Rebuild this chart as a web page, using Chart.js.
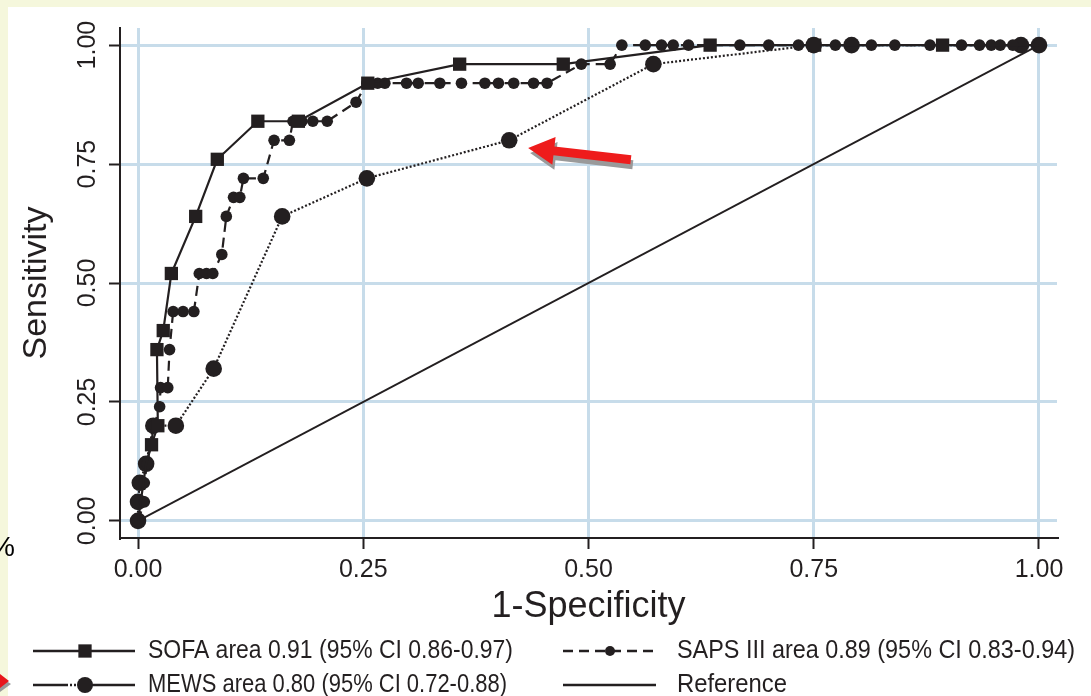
<!DOCTYPE html>
<html>
<head>
<meta charset="utf-8">
<title>ROC curves - SOFA, SAPS III, MEWS</title>
<script src="https://cdn.jsdelivr.net/npm/chart.js@4.4.0/dist/chart.umd.min.js"></script>
<style>
  html, body { margin: 0; padding: 0; background: #f5f7dc; }
  #wrap { position: relative; width: 1091px; height: 696px; }
</style>
</head>
<body>
<div id="wrap"><canvas id="roc" width="1091" height="696"></canvas></div>
<script>
// Tick values (both axes)
const tickValues = [0, 0.25, 0.5, 0.75, 1];

// SOFA curve (1-specificity, sensitivity)
const sofaX = [0, 0.009, 0.015, 0.022, 0.021, 0.028, 0.037, 0.064, 0.088, 0.133, 0.178, 0.255, 0.357, 0.472, 0.635, 0.751, 0.893, 1.0];
const sofaY = [0, 0.12, 0.16, 0.20, 0.36, 0.40, 0.52, 0.64, 0.76, 0.84, 0.84, 0.92, 0.96, 0.96, 1.0, 1.0, 1.0, 1.0];

// SAPS III curve
const sapsX = [0, 0.007, 0.007, 0.010, 0.018, 0.024, 0.025, 0.033, 0.035, 0.039, 0.050, 0.062, 0.068, 0.076, 0.083,
  0.093, 0.098, 0.106, 0.113, 0.117, 0.139, 0.151, 0.168, 0.172, 0.182, 0.194, 0.210, 0.242,
  0.254, 0.266, 0.274, 0.298, 0.311, 0.335, 0.359, 0.385, 0.400, 0.417, 0.439, 0.454, 0.492, 0.524,
  0.537, 0.563, 0.581, 0.594, 0.611, 0.668, 0.700, 0.733, 0.774, 0.814, 0.840, 0.879, 0.914, 0.934, 0.947, 0.957, 0.971, 1.0];
const sapsY = [0, 0.04, 0.08, 0.12, 0.20, 0.24, 0.28, 0.28, 0.36, 0.44, 0.44, 0.44, 0.52, 0.52, 0.52,
  0.56, 0.64, 0.68, 0.68, 0.72, 0.72, 0.80, 0.80, 0.84, 0.84, 0.84, 0.84, 0.88,
  0.92, 0.92, 0.92, 0.92, 0.92, 0.92, 0.92, 0.92, 0.92, 0.92, 0.92, 0.92, 0.96, 0.96,
  1.0, 1.0, 1.0, 1.0, 1.0, 1.0, 1.0, 1.0, 1.0, 1.0, 1.0, 1.0, 1.0, 1.0, 1.0, 1.0, 1.0, 1.0];

// MEWS curve
const mewsX = [0, 0, 0.002, 0.009, 0.017, 0.042, 0.084, 0.160, 0.254, 0.412, 0.572, 0.750, 0.792, 0.980, 1.0];
const mewsY = [0, 0.04, 0.08, 0.12, 0.20, 0.20, 0.32, 0.64, 0.72, 0.80, 0.96, 1.0, 1.0, 1.0, 1.0];

// Chance diagonal
const refX = [0, 1];
const refY = [0, 1];

const legendLabels = [
  'SOFA area 0.91 (95% CI 0.86-0.97)',
  'SAPS III area 0.89 (95% CI 0.83-0.94)',
  'MEWS area 0.80 (95% CI 0.72-0.88)',
  'Reference'
];

// annotation arrow pointing at the MEWS point, in data units
const arrowTail = { x: 0.547, y: 0.759 };
const arrowTip = { x: 0.433, y: 0.784 };

const INK = '#231f20';
const FONT = "'Liberation Sans', Arial, Helvetica, sans-serif";

function toPoints(xs, ys) {
  return xs.map((x, i) => ({ x: x, y: ys[i] }));
}

// SOFA squares hidden below the MEWS circles at the ends
const sofaRadius = sofaX.map((x, i) => (i < 2 || i === sofaX.length - 1) ? 0 : 9.4);

// Background: pale page edge and white panel
const backdrop = {
  id: 'backdrop',
  beforeDraw(chart) {
    const ctx = chart.ctx;
    ctx.save();
    ctx.fillStyle = '#f5f7dc';
    ctx.fillRect(0, 0, chart.width, chart.height);
    ctx.fillStyle = '#ffffff';
    ctx.fillRect(8, 7, chart.width - 8, chart.height - 7);
    // cut-off bits of neighbouring content on the left edge
    ctx.fillStyle = '#000';
    ctx.font = '28px ' + FONT;
    ctx.textAlign = 'right';
    ctx.textBaseline = 'alphabetic';
    ctx.fillText('%', 15, 556);
    ctx.fillStyle = '#999';
    ctx.beginPath();
    ctx.moveTo(0, 677); ctx.lineTo(11, 684); ctx.lineTo(0, 692); ctx.closePath(); ctx.fill();
    ctx.fillStyle = '#e8161b';
    ctx.beginPath();
    ctx.moveTo(0, 674); ctx.lineTo(9, 681); ctx.lineTo(0, 688); ctx.closePath(); ctx.fill();
    ctx.restore();
  }
};

function fitText(ctx, text, x, y, width) {
  const w = ctx.measureText(text).width;
  ctx.save();
  ctx.translate(x, y);
  ctx.scale(width / w, 1);
  ctx.fillText(text, 0, 0);
  ctx.restore();
}

function marker(ctx, style, r, x, y) {
  ctx.fillStyle = INK;
  Chart.helpers.drawPoint(ctx, { pointStyle: style, radius: r, rotation: 0, borderWidth: 0 }, x, y);
}

function seg(ctx, x1, x2, y, dash, width) {
  ctx.beginPath();
  ctx.setLineDash(dash);
  ctx.lineWidth = width;
  ctx.moveTo(x1, y);
  ctx.lineTo(x2, y);
  ctx.stroke();
  ctx.setLineDash([]);
}

// Stata-style legend below the plot
const stataLegend = {
  id: 'stataLegend',
  afterDraw(chart) {
    const ctx = chart.ctx;
    const r1 = 651, r2 = 685;
    ctx.save();
    ctx.strokeStyle = INK;
    ctx.fillStyle = INK;
    // SOFA
    seg(ctx, 33, 135, r1, [], 2.5);
    marker(ctx, 'rect', 9.4, 85, r1);
    // SAPS III
    seg(ctx, 563, 656, r1, [10, 6], 2.5);
    marker(ctx, 'circle', 5, 610, r1);
    // MEWS
    seg(ctx, 33, 66, r2, [], 2.5);
    seg(ctx, 66, 80, r2, [2, 2], 2.5);
    seg(ctx, 90, 135, r2, [], 2.5);
    marker(ctx, 'circle', 8, 85, r2);
    // Reference
    seg(ctx, 563, 656, r2, [], 2.5);

    ctx.fillStyle = INK;
    ctx.font = "26px 'Liberation Sans Narrow', " + FONT;
    ctx.textBaseline = 'middle';
    ctx.textAlign = 'left';
    fitText(ctx, legendLabels[0], 148, r1, 365);
    fitText(ctx, legendLabels[1], 677, r1, 398);
    fitText(ctx, legendLabels[2], 148, r2, 359);
    fitText(ctx, legendLabels[3], 677, r2, 110);
    ctx.restore();
  }
};

// Red annotation arrow with grey drop shadow
const redArrow = {
  id: 'redArrow',
  afterDatasetsDraw(chart) {
    const xs = chart.scales.x, ys = chart.scales.y;
    const tx = xs.getPixelForValue(arrowTip.x), ty = ys.getPixelForValue(arrowTip.y);
    const sx = xs.getPixelForValue(arrowTail.x), sy = ys.getPixelForValue(arrowTail.y);
    const ang = Math.atan2(ty - sy, tx - sx);
    const len = Math.hypot(tx - sx, ty - sy);
    const headLen = 26, headHalf = 14, shaft = 4.5;
    const ctx = chart.ctx;
    const shape = (dx, dy, color) => {
      ctx.save();
      ctx.translate(sx + dx, sy + dy);
      ctx.rotate(ang);
      ctx.fillStyle = color;
      ctx.beginPath();
      ctx.moveTo(0, -shaft);
      ctx.lineTo(len - headLen, -shaft);
      ctx.lineTo(len - headLen, -headHalf);
      ctx.lineTo(len, 0);
      ctx.lineTo(len - headLen, headHalf);
      ctx.lineTo(len - headLen, shaft);
      ctx.lineTo(0, shaft);
      ctx.closePath();
      ctx.fill();
      ctx.restore();
    };
    shape(2, 5, '#9a9a9a');
    shape(0, 0, '#ee1c1c');
  }
};

const tickOpts = {
  font: { family: FONT, size: 25 },
  color: INK,
  autoSkip: false
};

new Chart(document.getElementById('roc'), {
  type: 'scatter',
  data: {
    datasets: [
      {
        label: legendLabels[0],
        data: toPoints(sofaX, sofaY),
        showLine: true,
        borderColor: INK,
        borderWidth: 2.2,
        backgroundColor: INK,
        pointStyle: 'rect',
        pointRadius: sofaRadius,
        pointBorderWidth: 0
      },
      {
        label: legendLabels[1],
        data: toPoints(sapsX, sapsY),
        showLine: true,
        borderColor: INK,
        borderWidth: 2.2,
        borderDash: [10, 6],
        backgroundColor: INK,
        pointStyle: 'circle',
        pointRadius: 5.8,
        pointBorderWidth: 0
      },
      {
        label: legendLabels[2],
        data: toPoints(mewsX, mewsY),
        showLine: true,
        borderColor: INK,
        borderWidth: 2.2,
        borderDash: [2, 2],
        backgroundColor: INK,
        pointStyle: 'circle',
        pointRadius: 8.3,
        pointBorderWidth: 0
      },
      {
        label: legendLabels[3],
        data: toPoints(refX, refY),
        showLine: true,
        borderColor: INK,
        borderWidth: 1.8,
        pointRadius: 0
      }
    ]
  },
  options: {
    responsive: false,
    animation: false,
    layout: { padding: { left: 0, top: 28, right: 34, bottom: 0 } },
    plugins: {
      legend: { display: false },
      tooltip: { enabled: false }
    },
    scales: {
      x: {
        type: 'linear',
        min: -0.02,
        max: 1.02,
        afterBuildTicks: (s) => { s.ticks = tickValues.map(v => ({ value: v })); },
        afterFit: (s) => { s.height = 158; },
        ticks: Object.assign({}, tickOpts, {
          padding: 6,
          maxRotation: 0,
          callback: v => v.toFixed(2)
        }),
        grid: { color: '#c7dcea', lineWidth: 3, tickLength: 11, tickColor: INK, tickWidth: 2 },
        border: { display: true, color: INK, width: 2 },
        title: {
          display: true,
          text: '1-Specificity',
          color: INK,
          font: { family: FONT, size: 36 },
          padding: { top: 0, bottom: 67 }
        }
      },
      y: {
        type: 'linear',
        min: -0.036,
        max: 1.036,
        afterBuildTicks: (s) => { s.ticks = tickValues.map(v => ({ value: v })); },
        afterFit: (s) => { s.width = 120; },
        ticks: Object.assign({}, tickOpts, {
          padding: -3,
          minRotation: 90,
          maxRotation: 90,
          crossAlign: 'center',
          callback: v => v.toFixed(2)
        }),
        grid: { color: '#c7dcea', lineWidth: 3, tickLength: 11, tickColor: INK, tickWidth: 2 },
        border: { display: true, color: INK, width: 2 },
        title: {
          display: true,
          text: 'Sensitivity',
          color: INK,
          font: { family: FONT, size: 34 },
          padding: { top: 16, bottom: 0 }
        }
      }
    }
  },
  plugins: [backdrop, redArrow, stataLegend]
});
</script>
</body>
</html>
